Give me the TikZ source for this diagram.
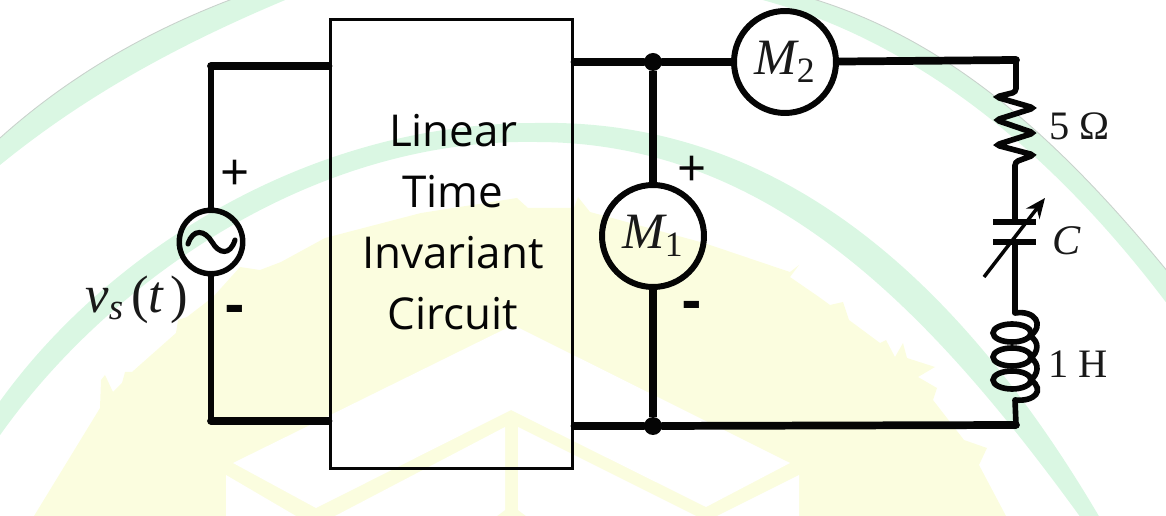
\documentclass[tikz,border=0pt]{standalone}
\usepackage{amsmath,amssymb}
\usepackage{fontspec}
\setmainfont{Open Sans}
\newfontfamily\valfont{Liberation Serif}
\newcommand{\mvar}[1]{\text{\valfont\itshape #1}}
\newcommand{\mdig}[1]{\text{\valfont #1}}
\usetikzlibrary{arrows.meta,backgrounds}
\definecolor{wmgreen}{HTML}{DAF7E3}
\definecolor{wmyellow}{HTML}{FBFDDF}
\definecolor{wmedge}{HTML}{C9D2CC}
\definecolor{cktink}{HTML}{050505}
\tikzset{
  wire/.style={line width=3.2pt,draw=cktink,line cap=round},
  hwire/.style={line width=4.4pt,draw=cktink,line cap=round},
  coil/.style={line width=3.2pt,draw=cktink},
  meter/.style={circle,draw=cktink,line width=3.4pt,minimum size=2.04cm,inner sep=0pt,
              font=\fontsize{29}{32}\selectfont,text=black!90},
  source/.style={circle,draw=cktink,line width=3.1pt,minimum size=1.27cm,inner sep=0pt},
  block/.style={draw=cktink,line width=1.7pt,minimum width=4.86cm,minimum height=9cm,inner sep=0pt},
  junct/.style={circle,fill=cktink,minimum size=0.36cm,inner sep=0pt},
  plate/.style={line width=3.4pt,draw=cktink},
  sign/.style={font=\fontsize{29}{32}\selectfont,text=cktink,inner sep=0pt},
  minus/.style={font=\fontsize{33}{36}\bfseries\selectfont,text=cktink,inner sep=0pt},
  val/.style={font=\fontsize{23}{28}\valfont\selectfont,text=black!90,inner sep=0pt},
  mlab/.style={font=\fontsize{30}{34}\selectfont,text=black!90,inner sep=0pt},
}
\begin{document}
\begin{tikzpicture}[x=0.02cm,y=-0.02cm]
  \useasboundingbox (0,0) rectangle (1166,516);
  % watermark
  \begin{scope}[on background layer]
    \clip (0,0) rectangle (1166,516);
    \fill[wmyellow] (34,516) -- (100,408) -- (101,380) -- (105,375) -- (113,392) -- (122,383)
      -- (125,372) -- (132,372) -- (176,333) -- (178,320) -- (187,317) -- (213,297) -- (240,267)
      -- (260,270) -- (281,262) -- (325,238) -- (421,213) -- (517,198) -- (528,208) -- (574,208)
      -- (578,197) -- (590,212) -- (704,243) -- (790,272) -- (799,265) -- (790,277) -- (819,297)
      -- (830,305) -- (843,302) -- (849,320) -- (880,343) -- (886,340) -- (895,357) -- (903,343)
      -- (907,358) -- (935,367) -- (918,377) -- (937,388) -- (933,400) -- (964,440) -- (987,448)
      -- (979,465) -- (1006,516) -- cycle;
    \fill[white] (233,463) -- (513,325) -- (790,463) -- (706,507) -- (511,410) -- (316,508) -- cycle;
    \fill[white] (226,475) -- (296,516) -- (226,516) -- cycle;
    \fill[white] (505,427) -- (505,510) -- (497,516) -- (335,516) -- cycle;
    \fill[white] (518,427) -- (518,510) -- (526,516) -- (696,516) -- cycle;
    \fill[white] (799,475) -- (799,516) -- (717,516) -- cycle;
    % outer band
    \fill[wmgreen] (0,138) .. controls (70,75) and (150,30) .. (235,-2) -- (290,-2)
      .. controls (170,48) and (80,100) .. (0,165) -- cycle;
    \fill[wmgreen] (810,-2) .. controls (950,40) and (1060,140) .. (1168,272) -- (1168,305)
      .. controls (1040,135) and (900,35) .. (755,-2) -- cycle;
    \draw[wmedge,line width=0.5pt] (0,138) .. controls (70,75) and (150,30) .. (235,-2);
    \draw[wmedge,line width=0.5pt] (810,-2) .. controls (950,40) and (1060,140) .. (1168,272);
    % inner band
    \fill[wmgreen] (-2,404) .. controls (100,260) and (300,123) .. (536,123)
      .. controls (780,118) and (960,280) .. (1100,518) -- (1081,518)
      .. controls (930,310) and (770,142) .. (536,142)
      .. controls (310,138) and (105,285) .. (-2,438) -- cycle;
  \end{scope}

  % ---------- block ----------
  \node[block] (ckt) at (451.5,244) {};
  \node[font=\fontsize{25}{34.6}\selectfont,align=center,text=cktink,inner sep=0pt] (cktlab) at (453,222)
    {Linear\\Time\\Invariant\\Circuit};

  % ---------- source side ----------
  \coordinate (lt) at (211,66);
  \coordinate (lb) at (211,421);
  \node[source] (vs) at (211,242) {};
  \draw[wire] (vs) -- (lt);
  \draw[wire] (vs) -- (lb);
  \draw[hwire] (lt) -- (lt -| ckt.west);
  \draw[hwire] (lb) -- (lb -| ckt.west);
  \draw[line width=2.9pt,draw=cktink,line cap=round] (188,244) .. controls (193,228) and (205,230) .. (212,242)
    .. controls (219,254) and (230,256) .. (235,240);
  \node[sign] (vsp) at (235,175) {+};
  \node[minus] (vsm) at (235,315) {-};
  \node[mlab] (vsl) at (137,300) {$\mvar{v}_{\mvar{s}}\,\mdig{(}\mvar{t}\,\mdig{)}$};

  % ---------- meters ----------
  \node[junct] (jt) at (653,62) {};
  \node[junct] (jb) at (653,426) {};
  \node[meter] (mone) at (653,236) {$\mvar{M}_{\mdig{1}}$};
  \node[meter] (mtwo) at (785,62) {$\mvar{M}_{\mdig{2}}$};
  \draw[line width=4pt,draw=cktink] (jt) -- (mone);
  \draw[line width=4pt,draw=cktink] (mone) -- (jb);
  \draw[hwire] (jt -| ckt.east) -- (jt);
  \draw[hwire] (jb -| ckt.east) -- (jb);
  \draw[hwire] (jt) -- (mtwo);
  \node[sign] (mp) at (692,171) {+};
  \node[minus] (mm) at (692,311) {-};

  % ---------- load branch ----------
  \coordinate (tr) at (1016,60);
  \coordinate (br) at (1016,425);
  \draw[hwire] (mtwo) -- (tr);
  \draw[hwire] (jb) -- (br);
  % resistor
  \draw[wire,rounded corners=2pt] (tr) -- (1016,92) -- (996,97) -- (1034,108) -- (996,120) -- (1034,133)
    -- (996,145) -- (1034,155) -- (1015,162) -- (1015,221);
  \node[val,anchor=west] (rl) at (1049,126) {5 Ω};
  % capacitor
  \coordinate (pa) at (1015,222);
  \coordinate (pb) at (1015,242);
  \draw[plate] (993,222) -- (1036,222);
  \draw[plate] (993,242) -- (1036,242);
  \draw[line width=2pt,draw=cktink,-{Stealth[length=4mm,width=3.4mm]}] (984,277) -- (1045,198);
  \node[mlab,font=\fontsize{24}{26}\selectfont] (cl) at (1067,241) {$\mvar{C}$};
  % inductor
  \draw[wire] (pb) -- (1015,313);
  \draw[coil] (1015,313) .. controls (1035,310) and (1045,325) .. (1030,336);
  \foreach \y in {333,357,380}{
    \draw[coil] (1012,\y) ellipse (19 and 9);}
  \draw[coil] (1030,336) .. controls (1040,342) and (1038,352) .. (1031,358);
  \draw[coil] (1031,358) .. controls (1040,364) and (1038,374) .. (1031,380);
  \draw[coil] (1031,380) .. controls (1045,390) and (1035,402) .. (1015,400);
  \draw[wire] (1015,400) -- (br);
  \node[val,anchor=west] (ll) at (1048,364) {1 H};
\end{tikzpicture}
\end{document}
